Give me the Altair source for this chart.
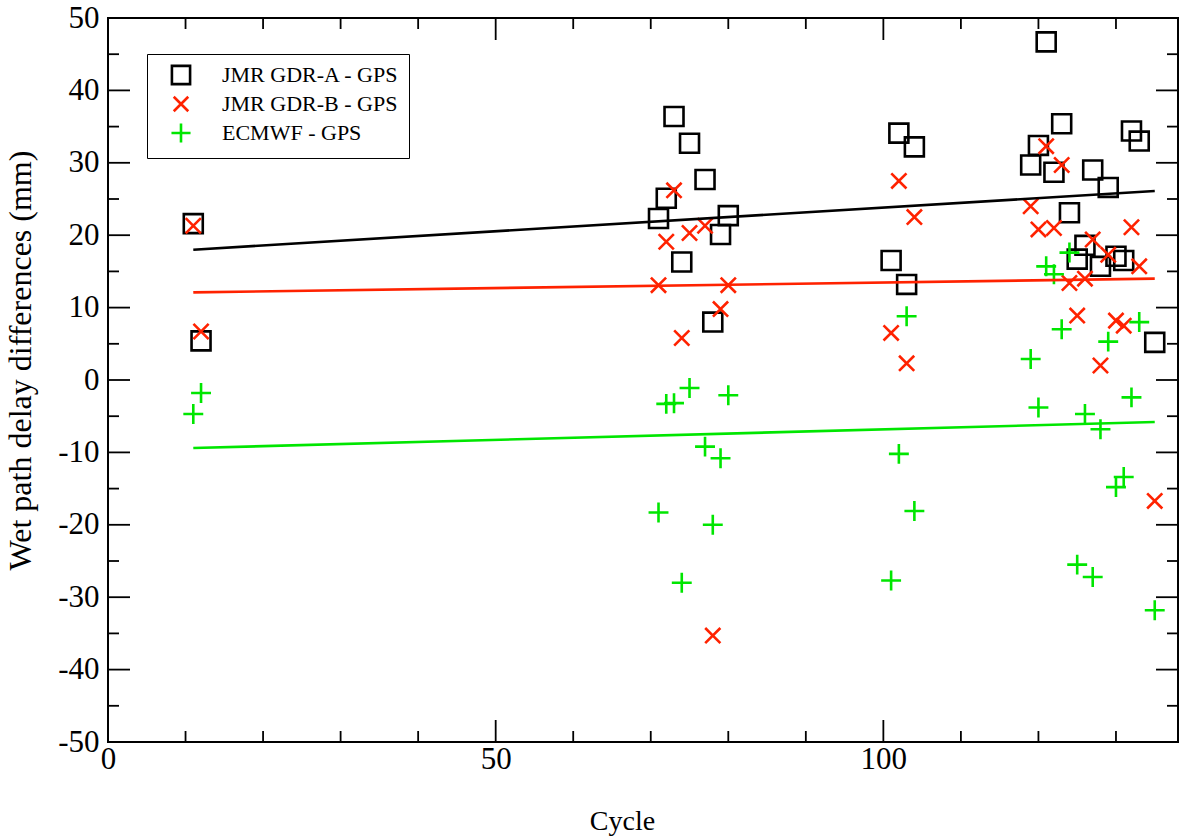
import altair as alt
import pandas as pd

# ---- data ----
series_names = ["JMR GDR-A - GPS", "JMR GDR-B - GPS", "ECMWF - GPS"]
cycles = [11, 12, 71, 72, 73, 74, 75, 77, 78, 79, 80, 101, 102, 103, 104,
          119, 120, 121, 122, 123, 124, 125, 126, 127, 128, 129, 130, 131, 132, 133, 135]
gdr_a = [21.6, 5.4, 22.3, 25.1, 36.4, 16.3, 32.7, 27.7, 8.0, 20.1, 22.7, 16.5, 34.1, 13.2, 32.2,
         29.7, 32.4, 46.7, 28.7, 35.4, 23.1, 16.7, 18.6, 29.0, 15.7, 26.6, 17.1, 16.5, 34.4, 33.0, 5.2]
gdr_b = [21.3, 6.7, 13.1, 19.1, 26.2, 5.8, 20.3, 21.3, -35.3, 9.8, 13.1, 6.5, 27.5, 2.3, 22.5,
         24.0, 20.8, 32.3, 21.0, 29.7, 13.4, 8.9, 14.0, 19.4, 2.0, 17.3, 8.2, 7.5, 21.1, 15.7, -16.7]
ecmwf = [-4.7, -1.8, -18.3, -3.3, -3.2, -28.0, -1.1, -9.2, -20.0, -10.8, -2.1, -27.7, -10.2, 8.8, -18.1,
         2.9, -3.8, 15.7, 14.6, 7.0, 17.6, -25.5, -4.7, -27.2, -6.8, 5.3, -14.8, -13.4, -2.4, 8.0, -31.8]

# fitted trend lines (end points)
fit_cycles = [11, 135]
fit_a = [18.0, 26.1]
fit_b = [12.1, 14.0]
fit_c = [-9.4, -5.8]

# axis ticks
x_major = [0, 50, 100]
x_minor = [10, 20, 30, 40, 60, 70, 80, 90, 110, 120, 130]
y_major = list(range(-50, 51, 10))
y_minor = list(range(-45, 46, 10))

# ---- styling ----
W, H = 1070, 724
FONT = "Liberation Serif"
colors = ["#000000", "#ff2200", "#00e600"]
shapes = ["square", "M-0.8,-0.8L0.8,0.8M0.8,-0.8L-0.8,0.8", "M-1.05,0L1.05,0M0,-1.05L0,1.05"]

pts = pd.DataFrame({
    "cycle": cycles * 3,
    "value": gdr_a + gdr_b + ecmwf,
    "series": [series_names[0]] * len(cycles) + [series_names[1]] * len(cycles) + [series_names[2]] * len(cycles),
})
fits = pd.DataFrame({
    "cycle": fit_cycles * 3,
    "value": fit_a + fit_b + fit_c,
    "series": [s for s in series_names for _ in fit_cycles],
})

xscale = alt.Scale(domain=[0, 138], nice=False, zero=False)
yscale = alt.Scale(domain=[-50, 50], nice=False, zero=False)

x_axis = alt.Axis(values=x_major, tickSize=0, domain=False, grid=False, labelFlush=False,
                  labelFont=FONT, labelFontSize=31, labelColor="black", labelPadding=2,
                  title="Cycle", titleFont=FONT, titleFontSize=28, titleFontWeight="normal",
                  titleColor="black", titlePadding=33, titleX=514)
y_axis = alt.Axis(values=y_major, tickSize=0, domain=False, grid=False, labelFlush=False,
                  labelFont=FONT, labelFontSize=31, labelColor="black", labelPadding=9,
                  labelExpr="'' + datum.value",
                  title="Wet path delay differences (mm)", titleFont=FONT, titleFontSize=32,
                  titleFontWeight="normal", titleColor="black", titleX=-71, titleY=342)

X = alt.X("cycle:Q", scale=xscale, axis=x_axis)
Y = alt.Y("value:Q", scale=yscale, axis=y_axis)

points = alt.Chart(pts).mark_point(filled=False, strokeWidth=2.6, size=360, opacity=1).encode(
    x=X, y=Y,
    color=alt.Color("series:N", scale=alt.Scale(domain=series_names, range=colors),
                    legend=alt.Legend(title=None, orient="none", legendX=39, legendY=36)),
    shape=alt.Shape("series:N", scale=alt.Scale(domain=series_names, range=shapes),
                    legend=alt.Legend(title=None, orient="none", legendX=39, legendY=36)),
)

lines = alt.Chart(fits).mark_line(strokeWidth=2.6).encode(
    x=X, y=Y,
    stroke=alt.Stroke("series:N", scale=alt.Scale(domain=series_names, range=colors), legend=None),
    detail="series:N",
)

def xticks(vals, length, top):
    df = pd.DataFrame({"cycle": vals})
    if top:
        ys = dict(y=alt.value(0), y2=alt.value(length))
    else:
        ys = dict(y=alt.value(H), y2=alt.value(H - length))
    return alt.Chart(df).mark_rule(color="black", strokeWidth=1.8).encode(x=X, **ys)

def yticks(vals, length, right):
    df = pd.DataFrame({"value": vals})
    if right:
        xs = dict(x=alt.value(W), x2=alt.value(W - length))
    else:
        xs = dict(x=alt.value(0), x2=alt.value(length))
    return alt.Chart(df).mark_rule(color="black", strokeWidth=1.8).encode(y=Y, **xs)

ticks = [
    xticks(x_major, 22, False), xticks(x_minor, 11, False),
    xticks(x_major, 22, True), xticks(x_minor, 11, True),
    yticks(y_major, 22, False), yticks(y_minor, 11, False),
    yticks(y_major, 22, True), yticks(y_minor, 11, True),
]

chart = alt.layer(points, lines, *ticks).properties(
    width=W, height=H,
    autosize=alt.AutoSizeParams(type="none"),
    padding={"left": 108, "top": 18, "right": 1, "bottom": 97},
    background="white",
).configure_view(
    stroke="black", strokeWidth=2
).configure_legend(
    strokeColor="black", padding=10, fillColor="white",
    labelFont=FONT, labelFontSize=22, labelColor="black", labelLimit=400,
    symbolSize=330, symbolStrokeWidth=2.6, symbolOffset=13, labelOffset=30,
    rowPadding=1,
)

chart.save("out.html", embed_options={"renderer": "svg", "actions": False})
